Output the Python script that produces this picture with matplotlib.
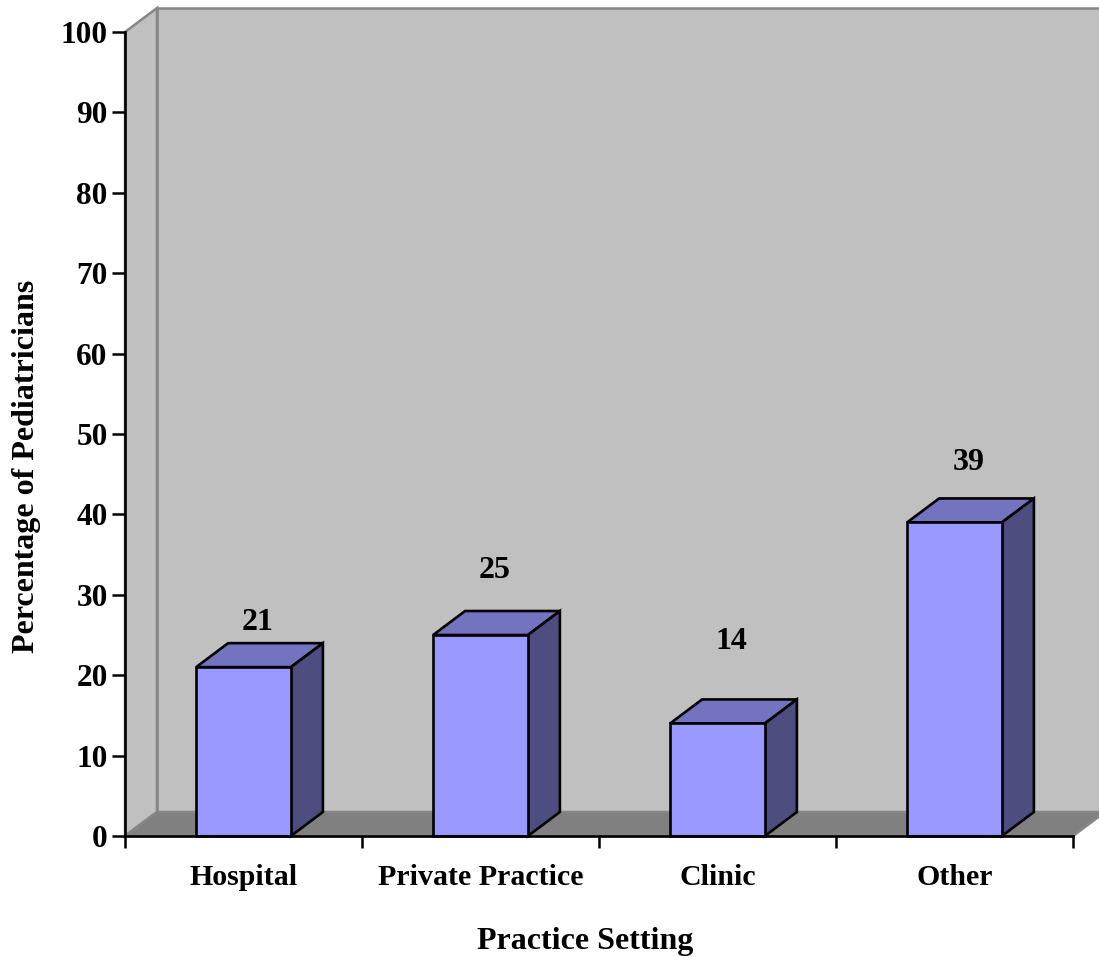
import matplotlib
matplotlib.use('Agg')
import matplotlib.pyplot as plt
from matplotlib.patches import Polygon

settings = ['Hospital', 'Private Practice', 'Clinic', 'Other']
percentages = [21, 25, 14, 39]
yticks = [0, 10, 20, 30, 40, 50, 60, 70, 80, 90, 100]

# pixels above the bar top for each value label, and small sideways nudge
label_lift = [45, 64, 82, 60]
label_shift = 14

W, H = 1099, 957
LEFT, RIGHT, TOP, BOTTOM = 125, 1073, 32, 836
DX, DY = 32, 24
BAR_WIDTH = 0.4

plt.rcParams['font.family'] = ['Liberation Serif', 'DejaVu Serif']
plt.rcParams['font.weight'] = 'bold'

fig = plt.figure(figsize=(W / 100, H / 100), dpi=100)
ax = fig.add_axes([LEFT / W, 1 - BOTTOM / H, (RIGHT - LEFT) / W, (BOTTOM - TOP) / H])
ax.set_xlim(0, len(settings))
ax.set_ylim(0, 100)
ax.patch.set_visible(False)

# depth of the 3D box in data units
dx = DX * len(settings) / (RIGHT - LEFT)
dy = DY * 100 / (BOTTOM - TOP)
xmax = len(settings)


def face(points, color, edge, lw, zorder):
    ax.add_patch(Polygon(points, closed=True, facecolor=color, edgecolor=edge,
                         linewidth=lw, joinstyle='miter', clip_on=False, zorder=zorder))


# walls and floor
wall_edge = '#868686'
face([(dx, dy), (xmax + dx, dy), (xmax + dx, 100 + dy), (dx, 100 + dy)], '#c0c0c0', wall_edge, 1.8, 1)
face([(0, 0), (dx, dy), (dx, 100 + dy), (0, 100)], '#c0c0c0', wall_edge, 1.8, 1)
face([(0, 0), (xmax, 0), (xmax + dx, dy), (dx, dy)], '#808080', wall_edge, 1.8, 2)

# bars
for i, value in enumerate(percentages):
    x0 = i + 0.5 - BAR_WIDTH / 2
    x1 = i + 0.5 + BAR_WIDTH / 2
    face([(x0, 0), (x1, 0), (x1, value), (x0, value)], '#9999ff', 'black', 1.9, 4)
    face([(x0, value), (x1, value), (x1 + dx, value + dy), (x0 + dx, value + dy)], '#7373bf', 'black', 1.9, 3)
    face([(x1, 0), (x1 + dx, dy), (x1 + dx, value + dy), (x1, value)], '#4d4d80', 'black', 1.9, 3)
    ax.annotate(str(value), (i + 0.5, value), xytext=(label_shift * 0.72, label_lift[i] * 0.72),
                textcoords='offset points', ha='center', va='center', fontsize=23,
                fontweight='bold', annotation_clip=False, zorder=6)

for side in ['top', 'right']:
    ax.spines[side].set_visible(False)
for side in ['left', 'bottom']:
    ax.spines[side].set_linewidth(1.9)
    ax.spines[side].set_zorder(5)

ax.set_yticks(yticks)
ax.set_xticks(range(len(settings) + 1))
ax.set_xticklabels([])
ax.set_xticks([i + 0.5 for i in range(len(settings))], settings, minor=True)
ax.tick_params(axis='y', length=9.5, width=1.8, labelsize=22.5, pad=3)
ax.tick_params(axis='x', which='major', length=8.5, width=1.8)
ax.tick_params(axis='x', which='minor', length=0, labelsize=21.5, pad=20)

fig.text(585 / W, 1 - 942 / H, 'Practice Setting', ha='center', va='center', fontsize=23, fontweight='bold')
fig.text(27 / W, 1 - 466 / H, 'Percentage of Pediatricians', rotation=90, ha='center', va='center',
         fontsize=23, fontweight='bold')

fig.savefig('out.png', dpi=100, facecolor='white')
